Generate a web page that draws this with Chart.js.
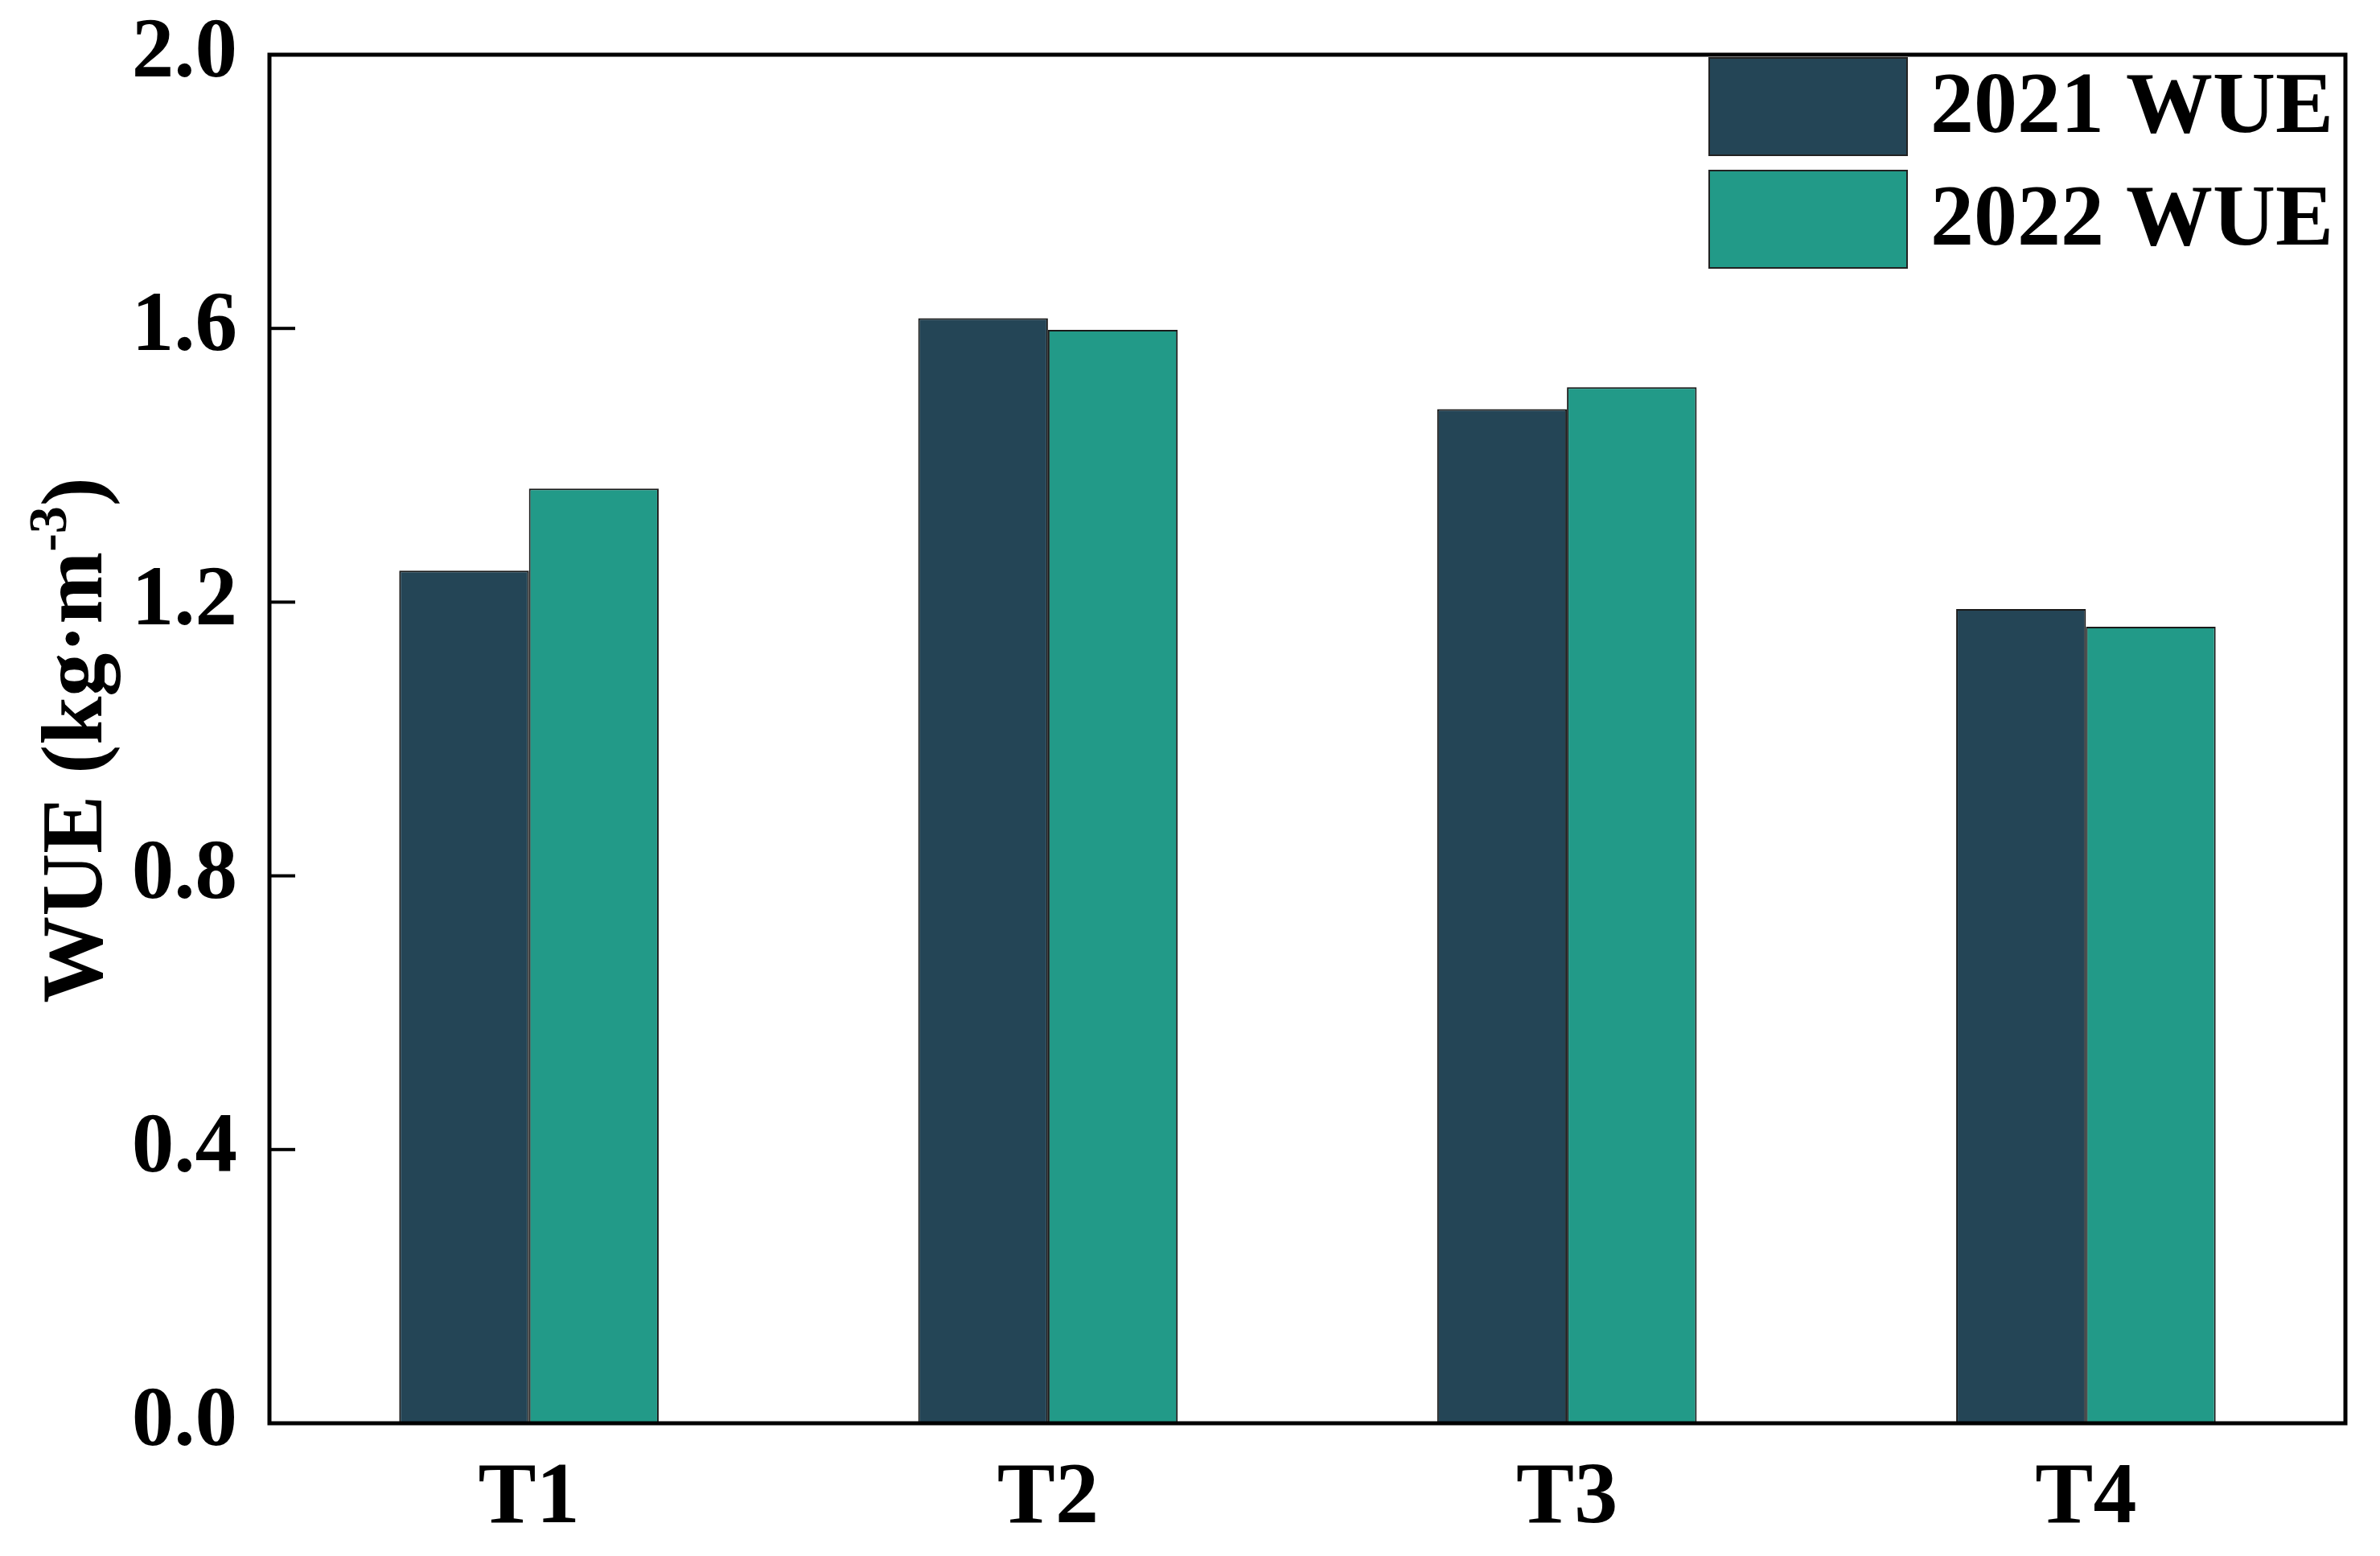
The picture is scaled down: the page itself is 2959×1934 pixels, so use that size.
<!DOCTYPE html>
<html>
<head>
<meta charset="utf-8">
<script src="https://cdn.jsdelivr.net/npm/chart.js@4.4.1/dist/chart.umd.min.js"></script>
<style>
  html, body { margin: 0; padding: 0; background: #fff; }
  #wrap { width: 2959px; height: 1934px; }
</style>
</head>
<body>
<div id="wrap"><canvas id="wueChart"></canvas></div>
<script>
// data
const categories = ['T1', 'T2', 'T3', 'T4'];
const wue2021 = [1.246, 1.615, 1.482, 1.190];
const wue2022 = [1.366, 1.598, 1.514, 1.164];
const seriesLabels = ['2021 WUE', '2022 WUE'];
const yTicks = [0, 0.4, 0.8, 1.2, 1.6, 2.0];

const FONT = '"Liberation Serif", "Times New Roman", serif';
const colors = ['#244556', '#229a88'];

// frame round the plot + inner tick marks on y
const framePlugin = {
    id: 'frame',
    afterDraw(chart) {
        const { ctx, chartArea: a, scales } = chart;
        ctx.save();
        ctx.strokeStyle = '#000';
        ctx.lineWidth = 5;
        ctx.strokeRect(a.left, a.top, a.right - a.left, a.bottom - a.top);
        ctx.lineWidth = 4;
        yTicks.forEach(v => {
            if (v === 0 || v === 2) return;
            const y = scales.y.getPixelForValue(v);
            ctx.beginPath();
            ctx.moveTo(a.left, y);
            ctx.lineTo(a.left + 32, y);
            ctx.stroke();
        });
        ctx.restore();
    }
};

// legend drawn inside the top right corner
const legendPlugin = {
    id: 'cornerLegend',
    afterDraw(chart) {
        const { ctx } = chart;
        ctx.save();
        ctx.font = 'bold 108px ' + FONT;
        ctx.textBaseline = 'middle';
        ctx.fillStyle = '#000';
        chart.data.datasets.forEach((ds, i) => {
            const top = 72 + i * 140;
            ctx.fillStyle = ds.backgroundColor;
            ctx.fillRect(2125, top, 246, 121);
            ctx.strokeStyle = '#222';
            ctx.lineWidth = 2;
            ctx.strokeRect(2125, top, 246, 121);
            ctx.fillStyle = '#000';
            ctx.fillText(ds.label, 2400, top + 64);
        });
        ctx.restore();
    }
};

// rotated y title with superscript
const yTitlePlugin = {
    id: 'yTitle',
    afterDraw(chart) {
        const { ctx } = chart;
        ctx.save();
        ctx.translate(126, 920);
        ctx.rotate(-Math.PI / 2);
        ctx.fillStyle = '#000';
        ctx.textBaseline = 'alphabetic';
        const big = 'bold 108px ' + FONT;
        const small = 'bold 68px ' + FONT;
        ctx.font = big;
        const p1 = 'WUE (kg\u00b7m';
        const w1 = ctx.measureText(p1).width;
        ctx.font = small;
        const w2 = ctx.measureText('-3').width;
        ctx.font = big;
        const w3 = ctx.measureText(')').width;
        let x = -(w1 + w2 + w3) / 2;
        ctx.fillText(p1, x, 0);
        x += w1;
        ctx.font = small;
        ctx.fillText('-3', x, -44);
        x += w2;
        ctx.font = big;
        ctx.fillText(')', x, 0);
        ctx.restore();
    }
};

new Chart(document.getElementById('wueChart'), {
    type: 'bar',
    data: {
        labels: categories,
        datasets: [
            { label: seriesLabels[0], data: wue2021, backgroundColor: colors[0], borderColor: '#1a1a1a', borderWidth: 2 },
            { label: seriesLabels[1], data: wue2022, backgroundColor: colors[1], borderColor: '#1a1a1a', borderWidth: 2 }
        ]
    },
    options: {
        responsive: true,
        maintainAspectRatio: false,
        animation: false,
        layout: { padding: { left: 0, top: 68, right: 43, bottom: 0 } },
        datasets: { bar: { categoryPercentage: 0.5, barPercentage: 1.0 } },
        plugins: {
            legend: { display: false },
            tooltip: { enabled: false }
        },
        scales: {
            x: {
                grid: { display: false, drawTicks: false },
                border: { display: false },
                ticks: {
                    color: '#000',
                    padding: 30,
                    font: { family: FONT, size: 108, weight: 'bold' }
                },
                afterFit(scale) {
                    scale.height = 165;
                    scale.paddingLeft = 0;
                    scale.paddingRight = 0;
                }
            },
            y: {
                min: 0,
                max: 2.0,
                grid: { display: false, drawTicks: false },
                border: { display: false },
                afterBuildTicks(scale) { scale.ticks = yTicks.map(v => ({ value: v })); },
                ticks: {
                    color: '#000',
                    padding: 40,
                    font: { family: FONT, size: 105, weight: 'bold' },
                    callback: v => v.toFixed(1)
                },
                afterFit(scale) {
                    scale.width = 335;
                    scale.paddingTop = 0;
                    scale.paddingBottom = 0;
                }
            }
        }
    },
    plugins: [framePlugin, legendPlugin, yTitlePlugin]
});
</script>
</body>
</html>
